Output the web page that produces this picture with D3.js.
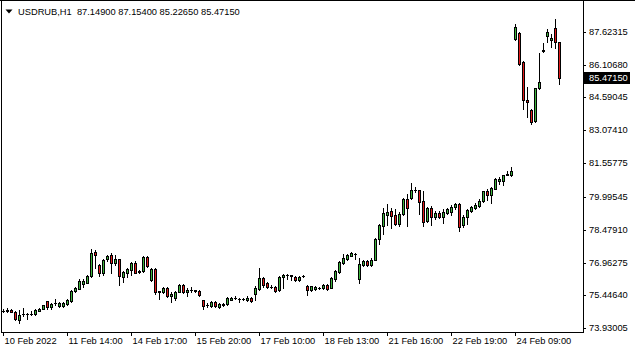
<!DOCTYPE html>
<html>
<head>
<meta charset="utf-8">
<script src="https://cdn.jsdelivr.net/npm/d3@7"></script>
<style>
html, body { margin: 0; padding: 0; background: #fff; }
svg { display: block; font-family: "Liberation Sans", Arial, sans-serif; font-size: 9.3px; }
</style>
</head>
<body>
<div id="chart"></div>
<script>
// USDRUB H1 candles (one entry per hourly bar)
const openPrices = [
    74.72, 74.71, 74.78, 74.69, 74.31, 74.57, 74.59, 74.58, 74.60, 74.74,
    74.84, 75.18, 74.93, 75.08, 74.96, 74.96, 75.05, 75.17, 75.64, 75.76,
    75.97, 76.04, 76.34, 77.45, 76.84, 76.50, 77.12, 77.30, 76.96, 77.11,
    76.31, 76.50, 76.62, 76.96, 76.53, 76.56, 77.22, 76.14, 76.67, 75.61,
    75.59, 75.78, 75.44, 75.34, 75.62, 75.93, 75.62, 75.68, 75.68, 75.65,
    75.22, 75.00, 74.95, 75.16, 74.91, 75.00, 75.04, 75.25, 75.34, 75.27,
    75.28, 75.25, 75.34, 75.53, 75.75, 76.24, 76.00, 75.84, 75.84, 75.68,
    76.30, 76.39, 76.37, 76.30, 76.15, 76.33, 75.89, 75.71, 75.75, 75.78,
    75.78, 75.93, 75.80, 76.21, 76.54, 76.95, 77.13, 77.28, 77.38, 76.21,
    76.85, 77.04, 76.85, 77.10, 78.05, 78.67, 79.16, 79.35, 79.16, 78.76,
    79.19, 79.90, 79.96, 80.30, 80.30, 79.82, 78.87, 79.48, 79.05, 79.27,
    79.05, 79.24, 79.30, 79.52, 79.67, 78.71, 79.05, 79.36, 79.48, 79.58,
    79.79, 80.26, 80.10, 80.37, 80.72, 80.74, 81.03, 81.02, 87.29, 87.56,
    86.21, 84.46, 84.00, 83.50, 85.01, 86.74, 87.41, 87.23, 87.78, 87.149
];
const highPrices = [
    74.80, 74.85, 74.80, 74.72, 74.78, 74.86, 74.65, 74.74, 74.83, 74.88,
    75.02, 75.21, 75.11, 75.30, 75.14, 75.16, 75.27, 75.70, 75.85, 76.19,
    76.19, 76.40, 77.58, 77.54, 76.90, 77.14, 77.33, 77.42, 77.33, 77.14,
    76.59, 76.71, 76.99, 77.02, 76.62, 77.27, 77.28, 76.70, 76.70, 75.65,
    75.82, 75.82, 75.59, 75.65, 75.96, 75.99, 75.80, 75.84, 75.72, 75.68,
    75.25, 75.10, 75.20, 75.19, 75.10, 75.10, 75.36, 75.38, 75.40, 75.33,
    75.35, 75.40, 75.37, 75.87, 76.70, 76.30, 76.05, 75.93, 75.87, 76.36,
    76.42, 76.42, 76.39, 76.33, 76.34, 76.37, 75.93, 75.90, 75.87, 75.82,
    75.96, 75.96, 76.30, 76.64, 77.04, 77.37, 77.37, 77.45, 77.41, 77.16,
    77.08, 77.08, 77.19, 78.08, 78.73, 79.47, 79.68, 79.47, 79.44, 79.31,
    79.93, 80.14, 80.64, 80.45, 80.33, 80.26, 79.51, 79.58, 79.33, 79.33,
    79.42, 79.47, 79.61, 79.72, 79.73, 79.17, 79.45, 79.58, 79.70, 79.89,
    80.28, 80.35, 80.44, 80.87, 80.90, 81.02, 81.21, 81.36, 87.99, 87.60,
    86.25, 85.07, 84.05, 85.04, 86.64, 87.10, 87.75, 87.53, 88.21, 87.154
];
const lowPrices = [
    74.68, 74.70, 74.67, 74.31, 74.16, 74.50, 74.37, 74.53, 74.56, 74.72,
    74.82, 74.81, 74.84, 75.02, 74.93, 74.93, 75.02, 75.14, 75.61, 75.73,
    75.85, 76.01, 76.31, 76.71, 76.34, 76.40, 77.02, 76.47, 76.84, 75.92,
    76.07, 76.31, 76.40, 76.47, 76.50, 76.53, 76.76, 76.10, 75.52, 75.28,
    75.55, 75.36, 75.14, 75.25, 75.59, 75.56, 75.44, 75.62, 75.62, 75.44,
    74.82, 74.92, 74.92, 74.93, 74.88, 74.95, 75.00, 75.22, 75.27, 75.13,
    75.22, 75.19, 75.16, 75.25, 75.71, 75.84, 75.80, 75.78, 75.60, 75.65,
    75.80, 76.21, 76.17, 76.10, 76.10, 76.30, 75.47, 75.65, 75.70, 75.75,
    75.75, 75.72, 75.78, 76.13, 76.48, 76.91, 77.10, 77.25, 77.13, 76.02,
    76.80, 76.81, 76.82, 77.07, 77.81, 78.30, 78.70, 78.55, 78.70, 78.67,
    79.16, 78.67, 79.90, 80.21, 79.22, 78.64, 78.84, 78.69, 78.96, 79.00,
    78.78, 79.20, 79.15, 79.44, 78.41, 78.62, 78.75, 79.30, 79.42, 79.52,
    79.76, 79.85, 79.70, 80.35, 80.59, 80.53, 81.00, 80.96, 87.23, 86.10,
    84.05, 83.69, 83.38, 83.44, 84.98, 86.67, 87.13, 86.92, 86.88, 85.2265
];
const closePrices = [
    74.74, 74.78, 74.69, 74.35, 74.56, 74.59, 74.58, 74.60, 74.77, 74.84,
    74.99, 74.90, 75.05, 75.09, 75.09, 75.11, 75.24, 75.67, 75.79, 76.13,
    76.13, 76.34, 77.39, 77.30, 76.50, 77.08, 77.27, 76.96, 77.14, 76.34,
    76.53, 76.65, 76.93, 76.50, 76.59, 77.22, 76.79, 76.67, 75.59, 75.63,
    75.78, 75.41, 75.53, 75.59, 75.93, 75.62, 75.68, 75.68, 75.67, 75.47,
    74.97, 75.00, 75.16, 74.97, 75.04, 75.04, 75.32, 75.34, 75.35, 75.26,
    75.27, 75.34, 75.19, 75.80, 76.24, 75.93, 75.84, 75.84, 75.65, 76.30,
    76.39, 76.40, 76.36, 76.15, 76.30, 76.34, 75.71, 75.87, 75.83, 75.78,
    75.93, 75.74, 76.26, 76.57, 76.98, 77.19, 77.31, 77.41, 77.38, 76.91,
    77.04, 76.85, 77.10, 78.05, 78.70, 79.25, 79.31, 79.13, 78.76, 79.22,
    79.90, 79.47, 80.33, 80.31, 79.77, 78.84, 79.48, 79.08, 79.27, 79.05,
    79.30, 79.42, 79.54, 79.67, 78.62, 79.08, 79.39, 79.51, 79.64, 79.82,
    80.26, 80.10, 80.41, 80.81, 80.84, 80.99, 81.05, 81.18, 87.84, 86.14,
    84.46, 84.36, 83.44, 85.01, 85.31, 86.80, 87.60, 87.35, 87.15, 85.4715
];

// price scale labels
const priceTicks = [87.62315, 86.10680, 84.59045, 83.07410, 81.55775, 79.99545, 78.47910, 76.96275, 75.44640, 73.93005];

// time scale labels, one every 16 bars
const timeTickBars = [0, 16, 32, 48, 64, 80, 96, 112, 128];
const timeTickLabels = ['10 Feb 2022', '11 Feb 14:00', '14 Feb 17:00', '15 Feb 20:00', '17 Feb 10:00',
    '18 Feb 13:00', '21 Feb 16:00', '22 Feb 19:00', '24 Feb 09:00'];

const symbolLabel = 'USDRUB,H1';

const width = 635;
const height = 352;
const axisX = 583;     // price scale line
const axisY = 332;     // time scale line
const bullColor = '#3cb43c';
const bearColor = '#e21b1b';

const bars = openPrices.map((o, i) => ({
    i: i, o: o, h: highPrices[i], l: lowPrices[i], c: closePrices[i]
}));
const last = bars[bars.length - 1];

const svg = d3.select('#chart').append('svg')
    .attr('width', width)
    .attr('height', height);

svg.append('rect')
    .attr('width', width)
    .attr('height', height)
    .attr('fill', '#fff');

// Scales (rounded so every line lands on a pixel)
const x = d3.scaleLinear()
    .domain([0, bars.length - 1])
    .range([3, 3 + 4 * (bars.length - 1)])
    .interpolate(d3.interpolateRound);

const y = d3.scaleLinear()
    .domain([73.93005, 87.62315])
    .range([328.3, 31.7])
    .interpolate(d3.interpolateRound);

// Candles
const candles = svg.append('g').attr('class', 'candles');

candles.selectAll('.wick')
    .data(bars)
    .enter()
    .append('rect')
    .attr('class', 'wick')
    .attr('x', d => x(d.i))
    .attr('y', d => y(d.h))
    .attr('width', 1)
    .attr('height', d => y(d.l) - y(d.h) + 1)
    .attr('fill', '#000');

candles.selectAll('.body')
    .data(bars)
    .enter()
    .append('rect')
    .attr('class', 'body')
    .attr('x', d => x(d.i) - 1)
    .attr('y', d => y(Math.max(d.o, d.c)))
    .attr('width', 3)
    .attr('height', d => y(Math.min(d.o, d.c)) - y(Math.max(d.o, d.c)) + 1)
    .attr('fill', '#000');

candles.selectAll('.fill')
    .data(bars.filter(d => y(Math.min(d.o, d.c)) - y(Math.max(d.o, d.c)) >= 2))
    .enter()
    .append('rect')
    .attr('class', 'fill')
    .attr('x', d => x(d.i))
    .attr('y', d => y(Math.max(d.o, d.c)) + 1)
    .attr('width', 1)
    .attr('height', d => y(Math.min(d.o, d.c)) - y(Math.max(d.o, d.c)) - 1)
    .attr('fill', d => d.c >= d.o ? bullColor : bearColor);

// Frame lines
svg.append('line')
    .attr('x1', 0).attr('x2', width)
    .attr('y1', 0.5).attr('y2', 0.5)
    .attr('stroke', '#000');
svg.append('line')
    .attr('x1', 1.5).attr('x2', 1.5)
    .attr('y1', 0).attr('y2', axisY + 1)
    .attr('stroke', '#000');

// Price axis
const yAxis = d3.axisRight(y)
    .tickValues(priceTicks)
    .tickSize(3)
    .tickPadding(3)
    .tickFormat(d3.format('.5f'));

const yAxisG = svg.append('g')
    .attr('transform', `translate(${axisX},0)`)
    .call(yAxis);
yAxisG.select('.domain').remove();
yAxisG.selectAll('text').attr('fill', '#000').style('font-size', null);
yAxisG.attr('font-family', null).attr('font-size', null);

svg.append('line')
    .attr('x1', axisX + 0.5).attr('x2', axisX + 0.5)
    .attr('y1', 0).attr('y2', axisY + 1)
    .attr('stroke', '#000');

// Time axis
const xAxis = d3.axisBottom(x)
    .tickValues(timeTickBars)
    .tickSize(4)
    .tickFormat((d, i) => timeTickLabels[i]);

const xAxisG = svg.append('g')
    .attr('transform', `translate(0,${axisY})`)
    .call(xAxis);
xAxisG.select('.domain').remove();
xAxisG.attr('font-family', null).attr('font-size', null);
xAxisG.selectAll('text')
    .attr('text-anchor', 'start')
    .attr('x', 1)
    .attr('y', 11.5)
    .attr('dy', null)
    .attr('fill', '#000');

svg.append('line')
    .attr('x1', 1).attr('x2', axisX + 1)
    .attr('y1', axisY + 0.5).attr('y2', axisY + 0.5)
    .attr('stroke', '#000');

// Last price marker on the price scale
const lastY = y(last.c);
svg.append('rect')
    .attr('x', axisX + 1)
    .attr('y', lastY - 6)
    .attr('width', 46)
    .attr('height', 12)
    .attr('fill', '#000');
svg.append('text')
    .attr('x', axisX + 6)
    .attr('y', lastY + 3)
    .attr('fill', '#fff')
    .text(d3.format('.5f')(last.c));

// Title: symbol, period and OHLC of the last bar
svg.append('path')
    .attr('d', 'M5.5,9.5 L12.5,9.5 L9,13.5 Z')
    .attr('fill', '#000');
svg.append('text')
    .attr('x', 18)
    .attr('y', 15)
    .attr('fill', '#000')
    .attr('xml:space', 'preserve')
    .text(`${symbolLabel}  ${[last.o, last.h, last.l, last.c].map(d3.format('.5f')).join(' ')}`);
</script>
</body>
</html>
